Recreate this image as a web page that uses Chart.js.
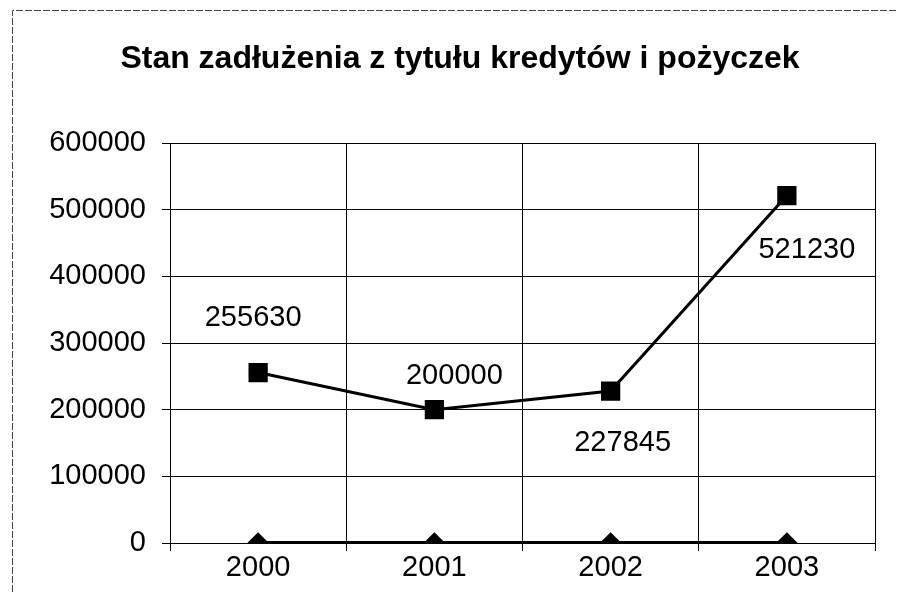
<!DOCTYPE html>
<html>
<head>
<meta charset="utf-8">
<script src="https://cdn.jsdelivr.net/npm/chart.js@4/dist/chart.umd.min.js"></script>
<style>
  html, body { margin: 0; padding: 0; background: #fff; overflow: hidden; }
  #wrap { width: 897px; height: 592px; position: relative; }
</style>
</head>
<body>
<div id="wrap"><canvas id="chart"></canvas></div>
<script>
var years = ['2000', '2001', '2002', '2003']
var debt = [255630, 200000, 227845, 521230]
var zeroSeries = [0, 0, 0, 0]
var yTicks = [0, 100000, 200000, 300000, 400000, 500000, 600000]
var titleText = 'Stan zadłużenia z tytułu kredytów i pożyczek'

// where each value label sits relative to its point (px)
var labelOffsets = [[-5, -55], [20, -34], [12, 52], [20, 54]]

var FONT = '"Liberation Sans", Arial, sans-serif'

var frame = {
  id: 'frame',
  beforeDraw: function(chart) {
    var ctx = chart.ctx
    ctx.save()
    ctx.fillStyle = '#fff'
    ctx.fillRect(0, 0, chart.width, chart.height)
    ctx.strokeStyle = '#444'
    ctx.lineWidth = 1
    ctx.setLineDash([7, 2])
    ctx.beginPath()
    ctx.moveTo(12.5, chart.height)
    ctx.lineTo(12.5, 10.5)
    ctx.lineTo(chart.width, 10.5)
    ctx.stroke()
    ctx.restore()
    // title, centred a little right of the canvas middle like the original
    ctx.save()
    ctx.font = 'bold 32px ' + FONT
    ctx.fillStyle = '#000'
    ctx.textAlign = 'center'
    ctx.textBaseline = 'alphabetic'
    ctx.fillText(titleText, 460, 68)
    ctx.restore()
  }
}

var valueLabels = {
  id: 'valueLabels',
  afterDatasetsDraw: function(chart) {
    var ctx = chart.ctx
    var meta = chart.getDatasetMeta(0)
    ctx.save()
    ctx.font = '29px ' + FONT
    ctx.fillStyle = '#000'
    ctx.textAlign = 'center'
    ctx.textBaseline = 'middle'
    meta.data.forEach(function(pt, i) {
      var off = labelOffsets[i]
      ctx.fillText(String(debt[i]), pt.x + off[0], pt.y + off[1])
    })
    ctx.restore()
  }
}

var chart = new Chart(document.getElementById('chart'), {
  type: 'line',
  data: {
    labels: years,
    datasets: [
      {
        data: debt,
        borderColor: '#000',
        backgroundColor: '#000',
        borderWidth: 3,
        pointStyle: 'rect',
        pointRadius: 11.5,
        pointHoverRadius: 11.5,
        tension: 0
      },
      {
        data: zeroSeries,
        borderColor: '#000',
        backgroundColor: '#000',
        borderWidth: 4,
        pointStyle: 'rectRot',
        pointRadius: 8,
        pointHoverRadius: 8,
        tension: 0
      }
    ]
  },
  options: {
    responsive: true,
    maintainAspectRatio: false,
    animation: false,
    layout: { padding: { left: 12, right: 22, top: 143, bottom: 0 } },
    plugins: {
      legend: { display: false },
      tooltip: { enabled: false },
      title: { display: false }
    },
    scales: {
      x: {
        offset: true,
        grid: { offset: true, color: '#000', lineWidth: 1, tickLength: 8, tickColor: '#000' },
        border: { color: '#000', width: 1 },
        ticks: { color: '#000', font: { family: FONT, size: 29 }, padding: 0 },
        afterFit: function(scale) { scale.height = 49 }
      },
      y: {
        min: 0,
        max: 600000,
        afterBuildTicks: function(scale) {
          scale.ticks = yTicks.map(function(v) { return { value: v } })
        },
        grid: { color: '#000', lineWidth: 1, tickLength: 8, tickColor: '#000' },
        border: { color: '#000', width: 1 },
        ticks: {
          color: '#000',
          font: { family: FONT, size: 29 },
          padding: 16,
          callback: function(v) { return String(v) }
        },
        afterFit: function(scale) { scale.width = 158 }
      }
    }
  },
  plugins: [frame, valueLabels]
})
</script>
</body>
</html>
